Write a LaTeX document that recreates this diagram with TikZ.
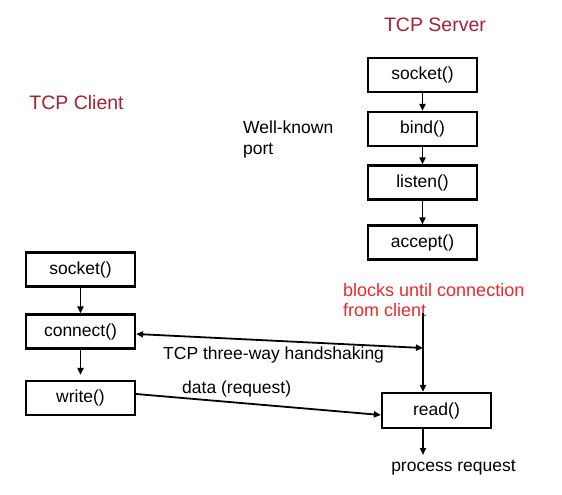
\documentclass[tikz,border=0pt]{standalone}
\usepackage{fontspec}
\setmainfont{Liberation Sans}
\usetikzlibrary{arrows.meta,calc}
\definecolor{titlered}{RGB}{168,32,52}
\definecolor{notered}{RGB}{240,40,40}
\begin{document}
\begin{tikzpicture}[x=1pt,y=-1pt,
  fnbox/.style={draw,line width=2.2pt,minimum width=109pt,minimum height=34pt,inner sep=0pt,font=\fontsize{17.5}{20}\selectfont},
  arr/.style={line width=1.8pt,-{Triangle[length=7pt,width=6pt]}},
  dblarr/.style={line width=1.8pt,{Triangle[length=7pt,width=6pt]}-{Triangle[length=7pt,width=6pt]}},
  title/.style={text=titlered,font=\fontsize{19.5}{22}\selectfont,inner sep=0pt},
  lbl/.style={font=\fontsize{17.5}{21}\selectfont,inner sep=0pt}]
\useasboundingbox (0,0) rectangle (562,495);
\fill[white] (0,0) rectangle (562,495);
% titles
\node[title] (tserver) at (435,25) {TCP Server};
\node[title] (tclient) at (76.5,103) {TCP Client};
\node[lbl,anchor=west,align=left] (wk) at (243,139) {Well-known\\port};
% server boxes
\node[fnbox] (ssock) at (422.5,75) {socket()};
\node[fnbox] (sbind) at (422.5,129) {bind()};
\node[fnbox] (slisten) at (422.5,182.5) {listen()};
\node[fnbox] (saccept) at (422.5,242.5) {accept()};
\draw[arr] (ssock.south) -- (sbind.north);
\draw[arr] (sbind.south) -- (slisten.north);
\draw[arr] (slisten.south) -- (saccept.north);
% client boxes
\node[fnbox] (csock) at (80.5,269.5) {socket()};
\node[fnbox] (cconn) at (80.5,331.5) {connect()};
\node[fnbox] (cwrite) at (80.5,398) {write()};
\draw[arr] (csock.south) -- (cconn.north);
\draw[arr,shorten >=5pt] (cconn.south) -- (cwrite.north);
% read box
\node[fnbox,minimum height=35pt] (sread) at (436.5,410.5) {read()\hspace{18pt}};
% annotation
\node[lbl,text=notered,font=\fontsize{18}{20}\selectfont,anchor=west,align=left] (blk) at (343,300) {blocks until connection\\from client};
\coordinate (vtop) at (423,313);
\coordinate (hs) at (423,348);
\draw[arr] (vtop) -- (vtop |- sread.north);
\draw[dblarr] ([yshift=-2.5pt]cconn.east) -- (hs);
\node[lbl,anchor=west] (hslbl) at (163,355) {TCP three-way handshaking};
\draw[arr] ([yshift=4pt]cwrite.east) -- ([yshift=-4.5pt]sread.west);
\node[lbl,anchor=west] (datalbl) at (182,389) {data (request)};
% process request
\coordinate (pr) at (423,455);
\draw[arr] (vtop |- sread.south) -- (pr);
\node[lbl] (prlbl) at (453.5,468) {process request};
\end{tikzpicture}
\end{document}
